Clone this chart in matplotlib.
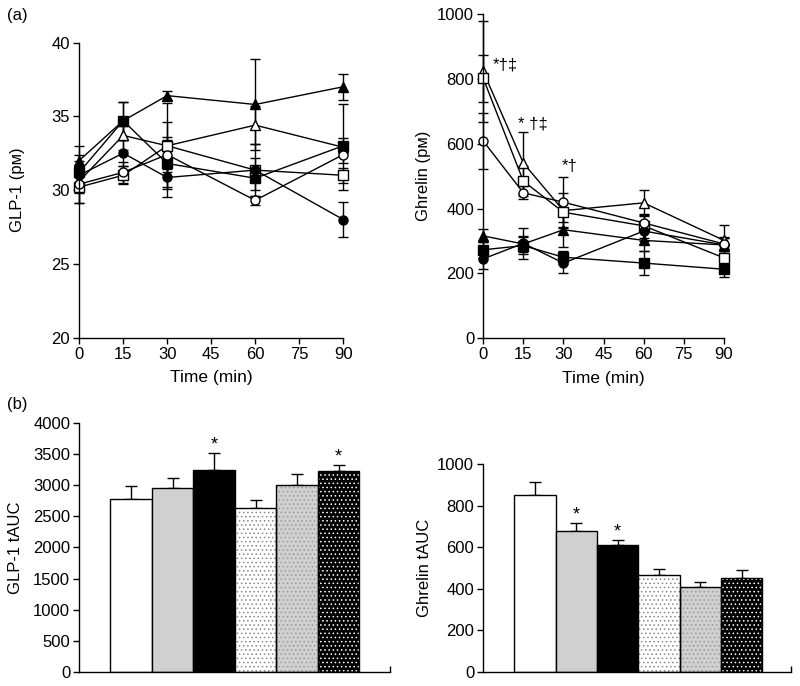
import matplotlib
matplotlib.use("Agg")
import matplotlib.pyplot as plt
import numpy as np

plt.rcParams['font.family'] = ['Liberation Sans', 'DejaVu Sans']
plt.rcParams['font.size'] = 12
plt.rcParams['hatch.linewidth'] = 0.6

times = [0, 15, 30, 60, 90]

# GLP-1 (pM) time courses
glp_filled_tri = [32.0, 34.7, 36.4, 35.8, 37.0]
glp_filled_tri_err = [1.0, 1.3, 0.3, 3.1, 0.9]
glp_open_tri = [30.6, 33.7, 33.0, 34.4, 32.9]
glp_open_tri_err = [0.8, 1.0, 2.9, 1.3, 2.9]
glp_filled_sq = [31.2, 34.7, 31.8, 30.8, 33.0]
glp_filled_sq_err = [1.2, 1.3, 1.6, 0.8, 0.5]
glp_open_sq = [30.2, 31.0, 33.0, 31.35, 31.0]
glp_open_sq_err = [1.1, 0.6, 1.6, 1.75, 0.5]
glp_filled_circ = [31.0, 32.5, 30.85, 31.35, 28.0]
glp_filled_circ_err = [1.0, 0.9, 1.35, 0.8, 1.2]
glp_open_circ = [30.4, 31.2, 32.4, 29.3, 32.4]
glp_open_circ_err = [1.3, 0.7, 1.2, 0.3, 0.6]

# Ghrelin (pM) time courses
ghr_filled_tri = [316, 291, 335, 302, 288]
ghr_filled_tri_err = [20, 25, 54, 34, 20]
ghr_open_tri = [824, 541, 394, 418, 302]
ghr_open_tri_err = [157, 97, 54, 41, 49]
ghr_filled_sq = [273, 286, 250, 232, 213]
ghr_filled_sq_err = [25, 25, 20, 36, 25]
ghr_open_sq = [803, 485, 389, 347, 248]
ghr_open_sq_err = [73, 46, 30, 37, 20]
ghr_filled_circ = [245, 293, 232, 331, 288]
ghr_filled_circ_err = [30, 48, 31, 30, 20]
ghr_open_circ = [609, 449, 420, 356, 291]
ghr_open_circ_err = [86, 20, 77, 25, 20]

# tAUC bars
bar_groups = ['1', '2', '3', '4', '5', '6']
glp_auc = [2780, 2950, 3240, 2640, 3000, 3230]
glp_auc_err = [200, 170, 270, 120, 180, 90]
glp_auc_sig = [False, False, True, False, False, True]
ghr_auc = [850, 680, 610, 465, 410, 450]
ghr_auc_err = [65, 35, 25, 30, 25, 40]
ghr_auc_sig = [False, True, True, False, False, False]

ghr_annots = [(3.7, 843, '*†‡'), (13.0, 663, '* †‡'), (29.5, 531, '*†')]

fig = plt.figure(figsize=(8, 6.86), dpi=100)

def style_axes(ax):
    ax.spines['top'].set_visible(False)
    ax.spines['right'].set_visible(False)
    ax.tick_params(direction='out', length=4, width=1, labelsize=12, pad=2.5)
    for s in ('left', 'bottom'):
        ax.spines[s].set_linewidth(1)

series_style = [
    ('^', 'black'), ('^', 'white'), ('s', 'black'),
    ('s', 'white'), ('o', 'black'), ('o', 'white'),
]

def draw_lines(ax, data):
    for (vals, errs), (mk, fc) in zip(data, series_style):
        ax.errorbar(times, vals, yerr=errs, color='black', lw=1, marker=mk,
                    mfc=fc, mec='black', ms=6.5, mew=1, capsize=3.5,
                    elinewidth=1, capthick=1, clip_on=False)

# Top-left: GLP-1
ax1 = fig.add_axes([0.099, 0.508, 0.33, 0.43])
draw_lines(ax1, [
    (glp_filled_tri, glp_filled_tri_err), (glp_open_tri, glp_open_tri_err),
    (glp_filled_sq, glp_filled_sq_err), (glp_open_sq, glp_open_sq_err),
    (glp_filled_circ, glp_filled_circ_err), (glp_open_circ, glp_open_circ_err)])
ax1.set_xlim(0, 90)
ax1.set_ylim(20, 40)
ax1.set_xticks([0, 15, 30, 45, 60, 75, 90])
ax1.set_yticks([20, 25, 30, 35, 40])
style_axes(ax1)
ax1.set_ylabel('GLP-1 (pᴍ)', fontsize=12)
ax1.yaxis.set_label_coords(-0.205, 0.5)
ax1.set_xlabel('Time (min)', fontsize=12.5)
ax1.xaxis.set_label_coords(0.5, -0.11)

# Top-right: Ghrelin
ax2 = fig.add_axes([0.604, 0.507, 0.301, 0.472])
draw_lines(ax2, [
    (ghr_filled_tri, ghr_filled_tri_err), (ghr_open_tri, ghr_open_tri_err),
    (ghr_filled_sq, ghr_filled_sq_err), (ghr_open_sq, ghr_open_sq_err),
    (ghr_filled_circ, ghr_filled_circ_err), (ghr_open_circ, ghr_open_circ_err)])
ax2.set_xlim(0, 90)
ax2.set_ylim(0, 1000)
ax2.set_xticks([0, 15, 30, 45, 60, 75, 90])
ax2.set_yticks([0, 200, 400, 600, 800, 1000])
style_axes(ax2)
ax2.set_ylabel('Ghrelin (pᴍ)', fontsize=12)
ax2.yaxis.set_label_coords(-0.216, 0.5)
ax2.set_xlabel('Time (min)', fontsize=12.5)
ax2.xaxis.set_label_coords(0.5, -0.1)
for x, y, t in ghr_annots:
    ax2.text(x, y, t, fontsize=12, ha='left', va='center')

bar_fill = [
    ('white', None, 'black'), ('#d0d0d0', None, 'black'), ('black', None, 'black'),
    ('white', '....', '#888888'), ('#d0d0d0', '....', '#999999'), ('black', '....', 'white'),
]

def draw_bars(ax, vals, errs, sig):
    x = np.arange(len(vals))
    for i, (v, e) in enumerate(zip(vals, errs)):
        fc, hatch, hc = bar_fill[i]
        if hatch:
            ax.bar(x[i], v, width=1.0, color=fc, edgecolor=hc, hatch=hatch,
                   linewidth=0, zorder=2)
            ax.bar(x[i], v, width=1.0, fill=False, edgecolor='black',
                   linewidth=1, zorder=3)
        else:
            ax.bar(x[i], v, width=1.0, color=fc, edgecolor='black',
                   linewidth=1, zorder=2)
        ax.errorbar(x[i], v, yerr=[[0], [e]], color='black', lw=1,
                    capsize=4, capthick=1, elinewidth=1, zorder=1)
        if sig[i]:
            ax.text(x[i], v + e, '*', ha='center', va='bottom', fontsize=13)

ax3 = fig.add_axes([0.099, 0.0204, 0.389, 0.363])
draw_bars(ax3, glp_auc, glp_auc_err, glp_auc_sig)
ax3.set_xlim(-1.25, 6.25)
ax3.set_ylim(0, 4000)
ax3.set_yticks(np.arange(0, 4001, 500))
style_axes(ax3)
ax3.set_xticks([6.25])
ax3.tick_params(axis='x', direction='in', labelbottom=False)
ax3.set_ylabel('GLP-1 tAUC', fontsize=12)
ax3.yaxis.set_label_coords(-0.18, 0.5)

ax4 = fig.add_axes([0.604, 0.0204, 0.385, 0.303])
draw_bars(ax4, ghr_auc, ghr_auc_err, ghr_auc_sig)
ax4.set_xlim(-1.25, 6.2)
ax4.set_ylim(0, 1000)
ax4.set_yticks([0, 200, 400, 600, 800, 1000])
style_axes(ax4)
ax4.set_xticks([6.2])
ax4.tick_params(axis='x', direction='in', labelbottom=False)
ax4.set_ylabel('Ghrelin tAUC', fontsize=12)
ax4.yaxis.set_label_coords(-0.165, 0.5)

fig.text(0.009, 0.978, '(a)', fontsize=12, va='center')
fig.text(0.009, 0.41, '(b)', fontsize=12, va='center')

fig.savefig('out.png', dpi=100)
